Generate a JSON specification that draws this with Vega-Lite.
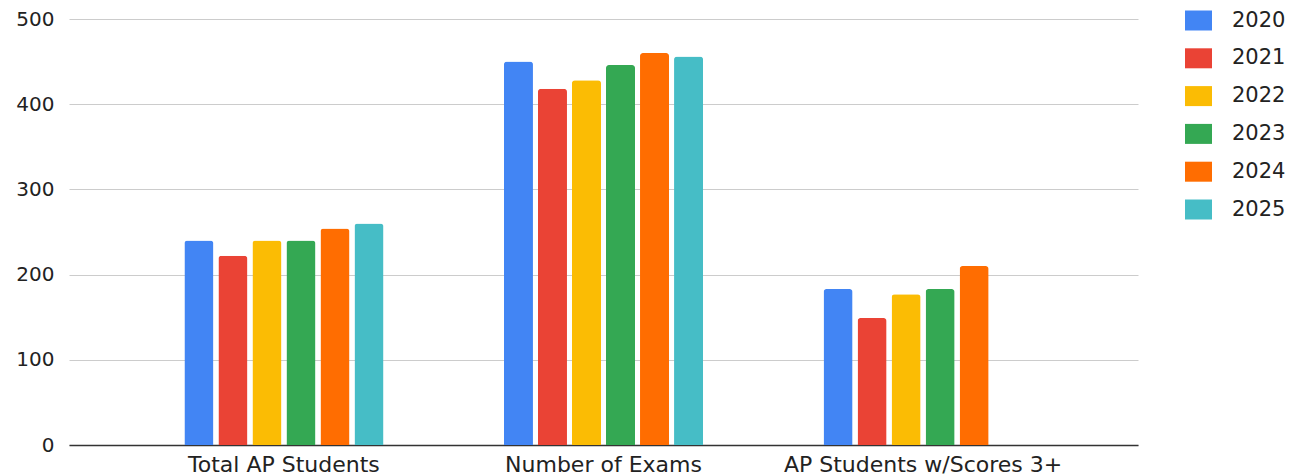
{
  "$schema": "https://vega.github.io/schema/vega-lite/v6.json",
  "width": 1069,
  "height": 426,
  "autosize": {"type": "none"},
  "padding": {"left": 69, "top": 19, "right": 155, "bottom": 31},
  "background": "white",
  "config": {
    "view": {"stroke": null},
    "font": "DejaVu Sans",
    "axis": {"labelFont": "DejaVu Sans", "labelColor": "#222222"},
    "legend": {"labelFont": "DejaVu Sans", "labelColor": "#222222"}
  },
  "data": {
    "values": [
      {"metric": "Total AP Students", "year": "2020", "value": 240},
      {"metric": "Total AP Students", "year": "2021", "value": 222},
      {"metric": "Total AP Students", "year": "2022", "value": 240},
      {"metric": "Total AP Students", "year": "2023", "value": 240},
      {"metric": "Total AP Students", "year": "2024", "value": 254},
      {"metric": "Total AP Students", "year": "2025", "value": 260},
      {"metric": "Number of Exams", "year": "2020", "value": 450},
      {"metric": "Number of Exams", "year": "2021", "value": 418},
      {"metric": "Number of Exams", "year": "2022", "value": 428},
      {"metric": "Number of Exams", "year": "2023", "value": 446},
      {"metric": "Number of Exams", "year": "2024", "value": 460},
      {"metric": "Number of Exams", "year": "2025", "value": 456},
      {"metric": "AP Students w/Scores 3+", "year": "2020", "value": 183},
      {"metric": "AP Students w/Scores 3+", "year": "2021", "value": 149},
      {"metric": "AP Students w/Scores 3+", "year": "2022", "value": 177},
      {"metric": "AP Students w/Scores 3+", "year": "2023", "value": 183},
      {"metric": "AP Students w/Scores 3+", "year": "2024", "value": 210}
    ]
  },
  "mark": {"type": "bar", "cornerRadiusTopLeft": 3, "cornerRadiusTopRight": 3},
  "encoding": {
    "x": {
      "field": "metric",
      "type": "nominal",
      "sort": null,
      "title": null,
      "scale": {"paddingInner": 0.377, "paddingOuter": 0.361},
      "axis": {
        "labelAngle": 0,
        "labelFontSize": 22,
        "labelPadding": 9,
        "labelLimit": 0,
        "ticks": false,
        "domainColor": "#333333",
        "domainWidth": 1.5
      }
    },
    "xOffset": {
      "field": "year",
      "type": "nominal",
      "scale": {"paddingInner": 0.147, "paddingOuter": 0}
    },
    "y": {
      "field": "value",
      "type": "quantitative",
      "title": null,
      "scale": {"domain": [0, 500], "nice": false},
      "axis": {
        "values": [0, 100, 200, 300, 400, 500],
        "labelFontSize": 20,
        "labelPadding": 15,
        "ticks": false,
        "domain": false,
        "gridColor": "#cccccc",
        "gridWidth": 1
      }
    },
    "color": {
      "field": "year",
      "type": "nominal",
      "title": null,
      "scale": {
        "domain": ["2020", "2021", "2022", "2023", "2024", "2025"],
        "range": ["#4285F4", "#EA4335", "#FBBC04", "#34A853", "#FF6D01", "#46BDC6"]
      },
      "legend": {
        "orient": "none",
        "legendX": 1119,
        "legendY": -9,
        "symbolType": "M-1.35,-1L1.35,-1L1.35,1L-1.35,1Z",
        "symbolSize": 400,
        "symbolStrokeWidth": 0,
        "symbolOpacity": 1,
        "labelFontSize": 21,
        "labelOffset": 23,
        "rowPadding": 15.8
      }
    }
  }
}
